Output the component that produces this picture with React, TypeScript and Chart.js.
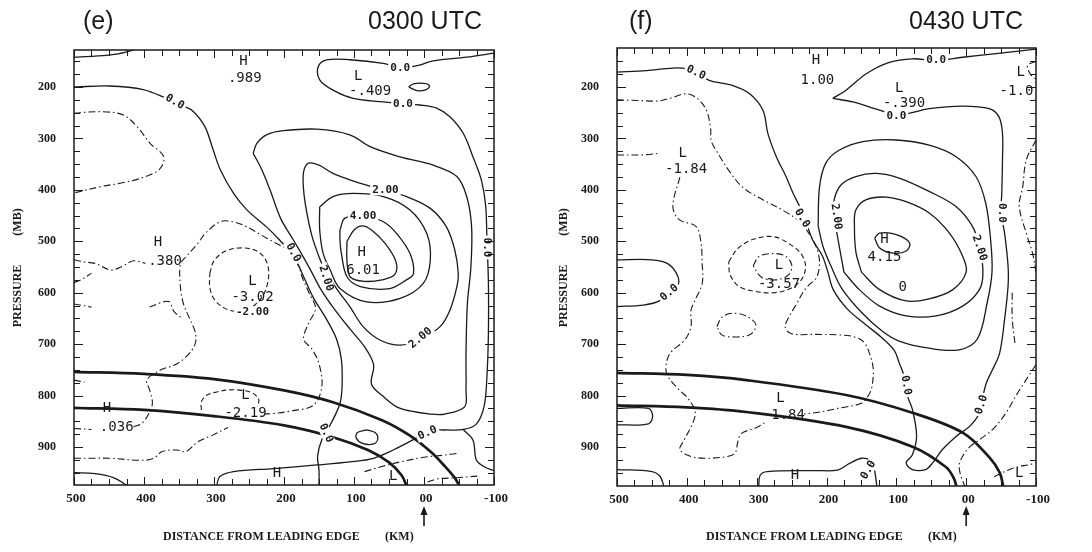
import React, { useEffect, useRef } from "react";
import { Chart, registerables } from "chart.js";
Chart.register(...registerables);

type Pt = [number, number];
type Label = [string, number, number, string, number];

// ---------- axes ----------
const X_TICKS = [500, 400, 300, 200, 100, 0, -100];
const X_TICK_TEXT = ["500", "400", "300", "200", "100", "00", "-100"];
const Y_TICKS = [200, 300, 400, 500, 600, 700, 800, 900];
const X_TITLE = ["DISTANCE FROM LEADING EDGE", "(KM)"];
const Y_TITLE = ["PRESSURE", "(MB)"];
const TITLES_E = ["(e)", "0300 UTC"];
const TITLES_F = ["(f)", "0430 UTC"];

// ---------- panel (e) 0300 UTC ----------
const E_ARC_1: Pt[] = [[500,754],[400,758],[300,768],[200,790],[130,813],[60,848],[20,878],[-10,910],[-30,938],[-45,962],[-50,975]];
const E_ARC_2: Pt[] = [[500,824],[400,828],[300,840],[200,858],[130,881],[80,906],[50,930],[32,955],[25,975]];
const E_ZERO_LEFT: Pt[] = [[500,200],[449,198],[401,205],[368,222],[345,236],[330,247],[313,277],[301,323],[291,361],[272,407],[253,439],[225,472],[206,498],[192,520],[180,545],[170,575],[158,610],[140,650],[125,690],[118,730],[117,780],[120,815],[132,852],[146,886],[152,918],[150,945],[150,975]];
const E_ZERO_TOP: Pt[] = [[-100,134],[-61,142],[-13,149],[8,158],[34,162],[58,154],[106,147],[139,147],[151,160],[149,186],[130,206],[101,222],[58,229],[30,233],[6,235],[-18,241],[-37,258],[-56,290],[-70,336],[-82,381],[-88,430],[-90,500],[-92,580],[-92,680],[-90,760],[-86,820],[-75,855],[-56,866],[-30,867],[-9,868],[10,882],[44,906],[72,922],[106,929],[153,935],[215,942],[272,948],[292,958],[296,975]];
const E_ZERO_BR: Pt[] = [[-56,866],[-70,887],[-75,926],[-88,940],[-100,946]];
const E_ZERO_BL: Pt[] = [[500,950],[470,952],[443,960],[424,975]];
const E_ZERO_LOOP: Pt[] = [[82,867],[95,872],[97,882],[88,893],[72,894],[66,884],[70,872],[82,867]];
const E_TOP_LOOP: Pt[] = [[22,200],[15,194],[0,193],[-8,198],[-3,205],[10,207],[22,200]];
const E_TOP_EDGE: Pt[] = [[500,142],[470,140],[440,136],[415,128]];
const E_ONE: Pt[] = [[244,329],[239,310],[225,293],[201,285],[153,282],[106,293],[77,316],[34,336],[-13,352],[-47,374],[-61,413],[-68,472],[-67,550],[-62,621],[-60,718],[-60,790],[-58,822],[-30,836],[-9,836],[20,830],[39,822],[58,802],[75,778],[72,740],[85,705],[105,672],[128,632],[148,592],[162,556],[176,522],[190,490],[205,455],[220,400],[232,360],[244,329]];
const E_TWO: Pt[] = [[142,556],[150,530],[160,490],[168,440],[172,400],[172,365],[165,348],[150,352],[130,368],[105,381],[82,391],[58,400],[25,413],[-9,436],[-32,472],[-44,517],[-49,563],[-47,588],[-37,634],[-23,666],[5,690],[34,702],[63,692],[87,666],[106,627],[125,592],[142,556]];
const E_THREE: Pt[] = [[149,433],[130,413],[101,407],[58,413],[20,439],[-4,485],[-9,537],[1,582],[34,611],[82,618],[120,592],[134,556],[144,524],[149,478],[149,433]];
const E_FOUR: Pt[] = [[120,478],[113,455],[87,450],[58,462],[39,485],[20,524],[15,563],[25,575],[49,592],[91,588],[110,569],[118,524],[120,498],[120,478]];
const E_FIVE: Pt[] = [[110,500],[100,478],[88,470],[75,478],[55,505],[40,540],[42,565],[60,575],[85,578],[105,570],[110,540],[110,500]];
const E_NEG_UL: Pt[] = [[500,251],[463,248],[430,254],[410,277],[391,310],[372,335],[378,360],[406,378],[434,387],[463,394],[500,406]];
const E_NEG_380: Pt[] = [[500,536],[487,540],[470,543],[447,556],[430,548],[415,538],[398,543]];
const E_NEG_BIG: Pt[] = [[415,861],[403,854],[393,835],[388,815],[392,789],[396,770],[376,750],[357,741],[340,725],[327,700],[327,676],[335,650],[344,620],[348,588],[348,545],[340,530],[323,504],[312,484],[291,462],[273,462],[253,472],[230,490],[210,505],[193,518],[180,545],[174,570],[164,601],[155,630],[165,660],[172,690],[160,710],[150,738],[146,783],[158,819],[190,830],[215,835],[228,836]];
const E_NEG_036: Pt[] = [[500,864],[475,866]];
const E_NEG_BOT: Pt[] = [[500,922],[479,922],[449,922],[403,926],[386,922],[374,909],[353,906],[340,909],[323,890],[302,877],[280,862]];
const E_DASH_302: Pt[] = [[306,562],[300,538],[285,520],[264,513],[242,517],[228,532],[222,556],[224,585],[232,610],[248,630],[264,637],[285,630],[300,612],[306,590],[306,562]];
const E_DASH_219: Pt[] = [[318,828],[318,812],[310,799],[296,793],[278,789],[260,790],[245,795],[236,808],[238,822]];
const E_NEG_S1: Pt[] = [[500,580],[490,575],[475,562]];
const E_NEG_S2: Pt[] = [[500,622],[475,628]];
const E_NEG_S3: Pt[] = [[392,628],[365,617],[357,637],[345,650]];
const E_NEG_BR1: Pt[] = [[85,948],[60,938],[34,929],[0,920],[-28,916],[-50,912]];
const E_NEG_BR2: Pt[] = [[-5,968],[-20,962],[-45,960],[-65,958],[-80,956]];
const E_NEG_L770: Pt[] = [[500,770],[485,774]];

const E_LABELS: Label[] = [
  ["H",258,151,"v",0],[".989",256,183,"v",0],
  ["L",94,180,"v",0],["-.409",77,209,"v",0],
  ["0.0",34,163,"c",0],["0.0",30,233,"c",0],
  ["0.0",356,229,"c",30],["0.0",187,522,"c",62],["2.00",140,572,"c",72],
  ["4.00",87,452,"c",0],["2.00",55,400,"c",0],["2.00",5,688,"c",-40],
  ["0.0",-90,512,"c",90],
  ["H",380,502,"v",0],[".380",370,540,"v",0],
  ["H",89,522,"v",0],["6.01",87,556,"v",0],
  ["L",245,578,"v",0],["-3.02",245,610,"v",0],["-2.00",245,637,"c",0],
  ["L",255,800,"v",0],["-2.19",255,834,"v",0],
  ["H",453,825,"v",0],[".036",439,862,"v",0],
  ["0.0",140,873,"c",65],["0.0",-5,873,"c",-25],
  ["H",210,952,"v",0],["L",44,958,"v",0],
];

// ---------- panel (f) 0430 UTC ----------
const F_ARC_1: Pt[] = [[500,756],[400,760],[315,770],[172,799],[76,834],[4,873],[-33,920],[-48,950],[-53,976]];
const F_ARC_2: Pt[] = [[500,819],[400,823],[315,832],[172,861],[76,900],[29,939],[18,960],[14,976]];
const F_ZERO_TOPLINE: Pt[] = [[-100,126],[-43,135],[5,142],[43,148],[77,145],[110,152],[143,174],[172,206],[191,222]];
const F_ZERO_MAIN: Pt[] = [[191,222],[162,229],[124,245],[96,254],[53,242],[5,237],[-33,242],[-47,258],[-52,290],[-52,342],[-51,406],[-50,445],[-55,484],[-60,548],[-60,587],[-55,652],[-48,717],[-38,749],[-29,775],[-24,801],[-19,834],[-5,860],[14,879],[34,905],[48,931],[58,944],[77,944],[86,931],[77,915],[71,879],[77,827],[84,801],[89,762],[96,736],[103,712],[122,686],[145,661],[170,632],[190,595],[198,560],[206,528],[220,497],[234,445],[248,406],[258,374],[272,335],[284,290],[291,245],[310,213],[334,197],[368,187],[387,171],[401,164],[420,163],[458,168],[500,171]];
const F_ONE: Pt[] = [[212,470],[210,394],[201,348],[182,323],[148,306],[100,303],[53,313],[15,335],[-14,374],[-28,426],[-35,497],[-37,560],[-30,620],[-16,690],[10,711],[53,708],[96,694],[120,675],[150,638],[178,592],[193,550],[205,510],[212,470]];
const F_TWO: Pt[] = [[175,560],[183,500],[189,450],[189,419],[179,390],[158,374],[129,368],[96,377],[53,403],[15,432],[-9,471],[-19,510],[-24,560],[-19,594],[5,626],[43,645],[86,645],[124,626],[153,594],[175,560]];
const F_THREE: Pt[] = [[150,560],[158,520],[160,470],[158,439],[143,419],[115,414],[86,423],[53,445],[24,484],[5,529],[0,560],[19,594],[53,612],[86,616],[124,594],[150,560]];
const F_FOUR: Pt[] = [[131,494],[124,484],[100,487],[81,503],[86,519],[105,523],[124,513],[131,494]];
const F_LOBE: Pt[] = [[500,536],[450,536],[428,543],[415,562],[412,582],[425,600],[441,617],[462,624],[500,627]];
const F_LOOP_BL: Pt[] = [[500,825],[455,825],[449,840],[455,855],[500,857]];
const F_BOT_L: Pt[] = [[500,944],[450,948],[438,958],[433,976]];
const F_BOT_H: Pt[] = [[297,976],[295,955],[285,948],[218,946],[184,945],[167,932],[150,922],[137,926],[133,935],[130,955],[128,976]];
const F_NEG_MAIN: Pt[] = [[500,225],[470,226],[440,227],[420,220],[401,213],[385,222],[372,245],[366,280],[365,305],[355,330],[340,362],[320,395],[290,420],[262,440],[240,460],[225,485],[215,510],[210,540],[214,570],[225,585],[234,600],[242,620],[255,650],[259,668],[250,680],[218,681],[184,682],[160,686],[146,697],[137,724],[133,750],[135,783],[140,800],[150,815],[184,825],[209,832],[232,836]];
const F_NEG_184: Pt[] = [[500,332],[465,332],[440,329]];
const F_NEG_LEFT: Pt[] = [[410,375],[420,432],[411,458],[387,471],[380,500],[378,543],[378,582],[388,614],[394,634],[394,666],[403,692],[424,718],[430,744],[427,763],[411,789],[398,806],[388,832],[392,855],[404,887],[410,905],[395,918],[374,922],[344,919],[331,912],[327,890],[322,874],[300,862],[285,850]];
const F_NEG_LOOP: Pt[] = [[357,666],[350,648],[335,640],[314,646],[301,663],[310,682],[334,686],[350,682],[357,666]];
const F_DASH_OUT: Pt[] = [[340,540],[327,514],[305,496],[276,491],[251,507],[236,525],[230,549],[236,575],[252,592],[275,600],[300,598],[325,588],[338,565],[340,540]];
const F_NEG_IN: Pt[] = [[305,548],[297,530],[280,524],[260,528],[250,545],[254,565],[272,575],[293,570],[305,548]];
const F_NEG_R1: Pt[] = [[-100,303],[-86,342],[-81,394],[-76,432],[-86,484],[-95,523],[-100,560]];
const F_NEG_R2: Pt[] = [[-100,740],[-86,769],[-71,801],[-57,834],[-38,866],[-19,886],[-5,900],[5,918],[10,935],[8,955],[2,976]];
const F_NEG_R3: Pt[] = [[-40,958],[-55,948],[-70,940],[-88,935],[-100,932]];
const F_NEG_R4: Pt[] = [[-100,150],[-88,158],[-92,175],[-100,185]];
const F_NEG_R5: Pt[] = [[-66,600],[-66,650],[-70,700]];

const F_LABELS: Label[] = [
  ["H",215,148,"v",0],["1.00",213,187,"v",0],
  ["L",96,203,"v",0],["-.390",89,232,"v",0],
  ["0.0",43,148,"c",0],["0.0",100,256,"c",0],
  ["L",-78,171,"v",0],["-1.0",-72,208,"v",0],
  ["0.0",387,172,"c",25],
  ["L",406,329,"v",0],["-1.84",401,361,"v",0],
  ["0.0",235,455,"c",60],["2.00",186,452,"c",82],
  ["0.0",-51,445,"c",90],["2.00",-19,513,"c",72],
  ["H",117,497,"v",0],["4.15",117,532,"v",0],["0",91,590,"v",0],
  ["L",268,546,"v",0],["-3.57",268,584,"v",0],
  ["0.0",425,600,"c",-40],["0.0",86,780,"c",80],["0.0",-22,818,"c",-72],
  ["L",266,805,"v",0],["1.84",255,838,"v",0],
  ["0.0",140,945,"c",-60],
  ["H",245,955,"v",0],["L",-76,951,"v",0],
];

// ---------- styles ----------
const STYLES: Record<string, any> = {
  solid: { borderWidth: 1.3, borderDash: [] },
  thick: { borderWidth: 2.7, borderDash: [] },
  dashdot: { borderWidth: 1.1, borderDash: [7, 3, 1.5, 3] },
  dash: { borderWidth: 1.1, borderDash: [5, 3] },
};

const PANELS = [
  {
    left: 0,
    yMin: 128, yMax: 974,
    pad: { left: 74, right: 52, top: 50, bottom: 67 },
    titles: TITLES_E, titleRight: 482,
    labels: E_LABELS,
    lines: [
      [E_ARC_1, "thick"], [E_ARC_2, "thick"],
      [E_ZERO_LEFT, "solid"], [E_ZERO_TOP, "solid"], [E_ZERO_BR, "solid"], [E_ZERO_BL, "solid"],
      [E_ZERO_LOOP, "solid"], [E_TOP_LOOP, "solid"], [E_TOP_EDGE, "solid"],
      [E_ONE, "solid"], [E_TWO, "solid"], [E_THREE, "solid"], [E_FOUR, "solid"], [E_FIVE, "solid"],
      [E_NEG_UL, "dashdot"], [E_NEG_380, "dashdot"], [E_NEG_BIG, "dashdot"], [E_NEG_036, "dashdot"],
      [E_NEG_BOT, "dashdot"], [E_DASH_302, "dash"], [E_DASH_219, "dash"], [E_NEG_S1, "dashdot"],
      [E_NEG_S2, "dashdot"], [E_NEG_S3, "dashdot"], [E_NEG_BR1, "dashdot"], [E_NEG_BR2, "dashdot"],
      [E_NEG_L770, "dashdot"],
    ] as [Pt[], string][],
  },
  {
    left: 546,
    yMin: 124, yMax: 976,
    pad: { left: 71, right: 56, top: 48, bottom: 66 },
    titles: TITLES_F, titleRight: 477,
    labels: F_LABELS,
    lines: [
      [F_ARC_1, "thick"], [F_ARC_2, "thick"],
      [F_ZERO_TOPLINE, "solid"], [F_ZERO_MAIN, "solid"], [F_ONE, "solid"], [F_TWO, "solid"],
      [F_THREE, "solid"], [F_FOUR, "solid"], [F_LOBE, "solid"], [F_LOOP_BL, "solid"],
      [F_BOT_L, "solid"], [F_BOT_H, "solid"],
      [F_NEG_MAIN, "dashdot"], [F_NEG_184, "dashdot"], [F_NEG_LEFT, "dashdot"], [F_NEG_LOOP, "dashdot"],
      [F_DASH_OUT, "dash"], [F_NEG_IN, "dashdot"], [F_NEG_R1, "dashdot"], [F_NEG_R2, "dashdot"],
      [F_NEG_R3, "dashdot"], [F_NEG_R4, "dashdot"], [F_NEG_R5, "dashdot"],
    ] as [Pt[], string][],
  },
];

const INK = "#1a1a1a";

function makeDeco(panel: any) {
  return {
    id: "deco",
    afterDatasetsDraw(chart: any) {
      const ctx = chart.ctx;
      const a = chart.chartArea;
      const xs = chart.scales.x, ys = chart.scales.y;
      ctx.save();
      ctx.beginPath();
      ctx.rect(a.left, a.top, a.right - a.left, a.bottom - a.top);
      ctx.clip();
      for (const [text, km, mb, kind, ang] of panel.labels as Label[]) {
        const px = xs.getPixelForValue(km);
        const py = ys.getPixelForValue(mb);
        ctx.save();
        ctx.translate(px, py);
        ctx.rotate((ang * Math.PI) / 180);
        ctx.textAlign = "center";
        ctx.textBaseline = "middle";
        if (kind === "c") {
          ctx.font = "bold 11px 'DejaVu Sans Mono'";
          const w = ctx.measureText(text).width;
          ctx.fillStyle = "#fff";
          ctx.fillRect(-w / 2 - 2, -5.5, w + 4, 11);
        } else {
          ctx.font = "14px 'DejaVu Sans Mono'";
        }
        ctx.fillStyle = INK;
        ctx.fillText(text, 0, 0);
        ctx.restore();
      }
      ctx.restore();
    },
    afterDraw(chart: any) {
      const ctx = chart.ctx;
      const a = chart.chartArea;
      const xs = chart.scales.x, ys = chart.scales.y;
      ctx.save();
      ctx.strokeStyle = INK;
      ctx.fillStyle = INK;
      // frame
      ctx.lineWidth = 1.5;
      ctx.strokeRect(a.left, a.top, a.right - a.left, a.bottom - a.top);
      // ticks
      ctx.lineWidth = 1;
      ctx.beginPath();
      for (let v = -100; v <= 500; v += 25) {
        const px = Math.round(xs.getPixelForValue(v)) + 0.5;
        const len = v % 100 === 0 ? 8 : 6;
        ctx.moveTo(px, a.bottom); ctx.lineTo(px, a.bottom - len);
        ctx.moveTo(px, a.top); ctx.lineTo(px, a.top + len);
      }
      for (let v = 150; v <= 950; v += 25) {
        const py = Math.round(ys.getPixelForValue(v)) + 0.5;
        const len = v % 100 === 0 ? 9 : 6;
        ctx.moveTo(a.left, py); ctx.lineTo(a.left + len, py);
        ctx.moveTo(a.right, py); ctx.lineTo(a.right - len, py);
      }
      ctx.stroke();
      // tick labels
      ctx.font = "bold 13px 'Liberation Serif'";
      ctx.textAlign = "center";
      ctx.textBaseline = "middle";
      X_TICKS.forEach((v, i) => {
        ctx.fillText(X_TICK_TEXT[i], xs.getPixelForValue(v) + 2, a.bottom + 14);
      });
      ctx.font = "bold 12px 'Liberation Serif'";
      ctx.textAlign = "right";
      Y_TICKS.forEach((v) => {
        ctx.fillText(String(v), a.left - 18, ys.getPixelForValue(v));
      });
      // axis titles
      ctx.font = "bold 12px 'Liberation Serif'";
      ctx.textAlign = "left";
      ctx.fillText(X_TITLE[0], a.left + 89, 537);
      ctx.fillText(X_TITLE[1], a.left + 311, 537);
      ctx.save();
      ctx.translate(18, 0);
      ctx.rotate(-Math.PI / 2);
      ctx.textAlign = "center";
      ctx.fillText(Y_TITLE[0], -296, 0);
      ctx.fillText(Y_TITLE[1], -222, 0);
      ctx.restore();
      // panel titles
      ctx.font = "25px 'Liberation Sans'";
      ctx.textBaseline = "alphabetic";
      ctx.textAlign = "left";
      ctx.fillText(panel.titles[0], 83, 29);
      ctx.textAlign = "right";
      ctx.fillText(panel.titles[1], panel.titleRight, 29);
      // arrow under leading edge (00)
      const ax = xs.getPixelForValue(0);
      ctx.lineWidth = 1.6;
      ctx.beginPath();
      ctx.moveTo(ax, 513); ctx.lineTo(ax, 526);
      ctx.stroke();
      ctx.beginPath();
      ctx.moveTo(ax, 506); ctx.lineTo(ax - 3.5, 515); ctx.lineTo(ax + 3.5, 515);
      ctx.closePath();
      ctx.fill();
      ctx.restore();
    },
  };
}

function Panel({ panel }: { panel: any }) {
  const ref = useRef<HTMLCanvasElement | null>(null);
  useEffect(() => {
    if (!ref.current) return;
    const datasets = panel.lines.map(([pts, style]: [Pt[], string]) => ({
      data: pts.map(([x, y]) => ({ x, y })),
      borderColor: INK,
      backgroundColor: INK,
      borderWidth: STYLES[style].borderWidth,
      borderDash: STYLES[style].borderDash,
      pointRadius: 0,
      fill: false,
      tension: 0.35,
      showLine: true,
    }));
    const chart = new Chart(ref.current, {
      type: "line",
      data: { datasets },
      options: {
        responsive: false,
        animation: false,
        events: [],
        devicePixelRatio: 1,
        layout: { padding: panel.pad },
        plugins: { legend: { display: false }, tooltip: { enabled: false }, title: { display: false } },
        scales: {
          x: { type: "linear", min: -100, max: 500, reverse: true, display: false },
          y: { type: "linear", min: panel.yMin, max: panel.yMax, reverse: true, display: false },
        },
      },
      plugins: [makeDeco(panel)],
    } as any);
    return () => chart.destroy();
  }, [panel]);
  return (
    <canvas
      ref={ref}
      width={546}
      height={552}
      style={{ position: "absolute", left: panel.left, top: 0, width: 546, height: 552 }}
    />
  );
}

export default function App() {
  return (
    <div style={{ position: "absolute", left: 0, top: 0, width: 1092, height: 552, background: "#fff" }}>
      {PANELS.map((p, i) => (
        <Panel key={i} panel={p} />
      ))}
    </div>
  );
}
